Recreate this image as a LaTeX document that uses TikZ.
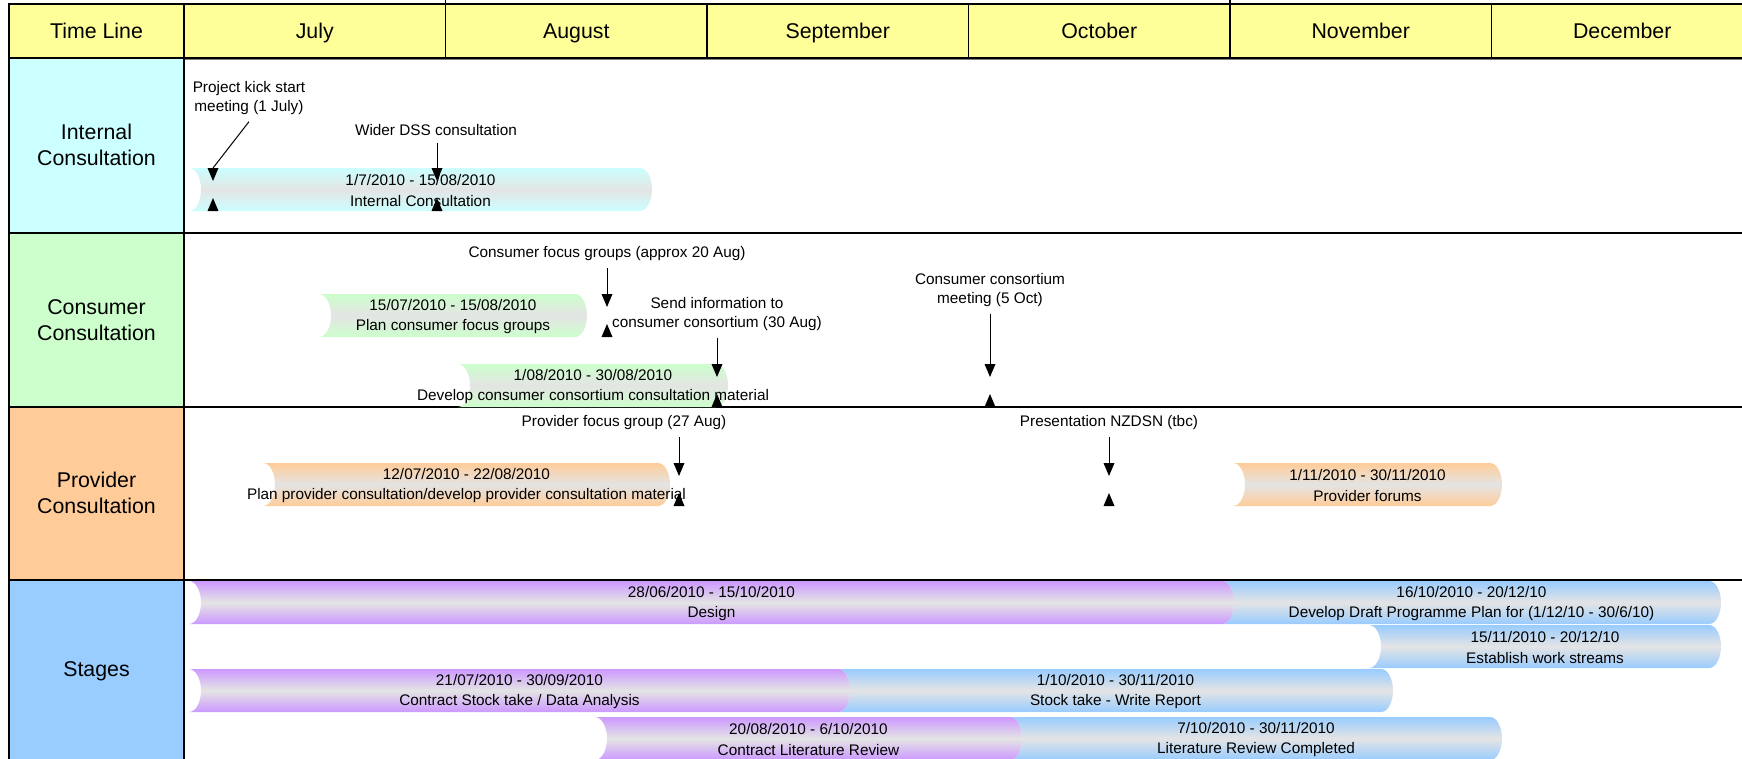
\documentclass[tikz,border=0pt]{standalone}
\usepackage{fontspec}
\setmainfont{Liberation Sans}
\usetikzlibrary{positioning}

\definecolor{hdryellow}{RGB}{255,255,153}
\definecolor{intcyan}{RGB}{204,255,255}
\definecolor{congreen}{RGB}{204,255,204}
\definecolor{provorange}{RGB}{255,204,153}
\definecolor{stageblue}{RGB}{153,204,255}
\definecolor{stagepurple}{RGB}{204,153,255}
\definecolor{barmid}{RGB}{228,228,228}

\tikzset{every picture/.style={line width=0.75pt}}
\tikzset{
  cell/.style={draw=black, line width=1.1pt},
  hdrtext/.style={font=\fontsize{16}{19}\selectfont, inner sep=0pt, text height=11.5pt, text depth=3.4pt},
  rowtext/.style={font=\fontsize{16}{19.5}\selectfont, align=center, inner sep=0pt},
  bartext/.style={font=\fontsize{11.5}{15.5}\selectfont, align=center, inner sep=0pt},
  mstext/.style={font=\fontsize{11.5}{14}\selectfont, align=center, inner sep=5pt},
}

% time bar: name, left, right, top, colour, text
\newcommand{\tlbar}[6]{%
  \shade[top color=#5, bottom color=#5, middle color=barmid]
    (#2,#4) -- ({#3-12},#4) arc[start angle=-90, end angle=90, x radius=12, y radius=21.5]
    -- (#2,{#4+43}) arc[start angle=90, end angle=-90, x radius=12, y radius=21.5] -- cycle;
  \node[bartext] (#1) at ({(#2+#3)/2},{#4+22.5}) {#6};
}
% milestone: name, x, top
\newcommand{\tlmark}[3]{%
  \coordinate (#1) at (#2,#3);
  \fill ({#2-5.5},#3) -- ({#2+5.5},#3) -- (#2,{#3+13}) -- cycle;
  \fill ({#2-5.5},{#3+43}) -- ({#2+5.5},{#3+43}) -- (#2,{#3+30}) -- cycle;
}

\begin{document}
\begin{tikzpicture}[x=0.75pt,y=0.75pt,yscale=-1,xscale=1]
\useasboundingbox (0,0) rectangle (1742,758);
\clip (0,0) rectangle (1742,758);

%Header row
\draw[cell] (445.5,0) -- (445.5,4) (1230,0) -- (1230,4);
\draw[cell, fill=hdryellow] (9,4) rectangle (184,58);
\node[hdrtext] (tlhead) at (96.5,33.5) {Time Line};
\foreach \mon [count=\i from 0] in {July,August,September,October,November,December} {
  \draw[cell, fill=hdryellow] ({184+261.5*\i},4) rectangle ({184+261.5*(\i+1)},58);
  \node[hdrtext] (m\i) at ({184+261.5*(\i+0.5)},33.5) {\mon};
}
\draw[gray, line width=0.9pt] (9,59.6) -- (1760,59.6);

%Row headings
\draw[cell, fill=intcyan] (9,58) rectangle (184,233);
\node[rowtext] (intlab) at (96.5,145) {Internal\\Consultation};
\draw[cell, fill=congreen] (9,233) rectangle (184,407);
\node[rowtext] (conlab) at (96.5,320) {Consumer\\Consultation};
\draw[cell, fill=provorange] (9,407) rectangle (184,580);
\node[rowtext] (provlab) at (96.5,493) {Provider\\Consultation};
\draw[cell, fill=stageblue] (9,580) rectangle (184,766);
\node[rowtext] (stglab) at (96.5,671) {Stages};
\foreach \y in {233,407,580} \draw[cell] (184,\y) -- (1760,\y);

%Internal consultation
\tlbar{intbar}{189}{652}{168}{intcyan}{1/7/2010 - 15/08/2010\\Internal Consultation}

%Consumer consultation
\tlbar{cfgbar}{319}{587}{294}{congreen}{15/07/2010 - 15/08/2010\\Plan consumer focus groups}
\tlbar{ccmbar}{458}{728}{364}{congreen}{1/08/2010 - 30/08/2010\\Develop consumer consortium consultation material}

%Provider consultation
\tlbar{ppcbar}{263}{670}{463}{provorange}{12/07/2010 - 22/08/2010\\Plan provider consultation/develop provider consultation material}
\tlbar{pfbar}{1233}{1502}{463}{provorange}{1/11/2010 - 30/11/2010\\Provider forums}

%Stages
\tlbar{draftbar}{1222}{1721}{581}{stageblue}{16/10/2010 - 20/12/10\\Develop Draft Programme Plan for (1/12/10 - 30/6/10)}
\tlbar{wsbar}{1369}{1721}{625}{stageblue}{15/11/2010 - 20/12/10\\Establish work streams}
\tlbar{designbar}{189}{1234}{581}{stagepurple}{28/06/2010 - 15/10/2010\\Design}
\tlbar{wrbar}{838}{1393}{669}{stageblue}{1/10/2010 - 30/11/2010\\Stock take - Write Report}
\tlbar{stkbar}{189}{850}{669}{stagepurple}{21/07/2010 - 30/09/2010\\Contract Stock take / Data Analysis}
\tlbar{lrcbar}{1010}{1502}{717}{stageblue}{7/10/2010 - 30/11/2010\\Literature Review Completed}
\tlbar{litbar}{595}{1022}{717}{stagepurple}{20/08/2010 - 6/10/2010\\Contract Literature Review}

%Milestones
\tlmark{kickmark}{213}{168}
\tlmark{dssmark}{437}{168}
\tlmark{cfgmark}{607}{294}
\tlmark{sendmark}{717}{364}
\tlmark{ccmark}{990}{364}
\tlmark{pfgmark}{679}{463}
\tlmark{nzmark}{1109}{463}

\node[mstext] (kick) at (249,98) {Project kick start\\meeting (1 July)};
\node[mstext] (dss) at (436,130) {Wider DSS consultation};
\node[mstext] (cfg) at (607,254) {Consumer focus groups (approx 20 Aug)};
\node[mstext] (send) at (717,314) {Send information to\\consumer consortium (30 Aug)};
\node[mstext] (ccmeet) at (990,290) {Consumer consortium\\meeting (5 Oct)};
\node[mstext] (pfg) at (624,423) {Provider focus group (27 Aug)};
\node[mstext] (nzdsn) at (1109,423) {Presentation NZDSN (tbc)};

\draw (kick.south) -- (kickmark);
\draw (dss.south -| dssmark) -- (dssmark);
\draw (cfg.south -| cfgmark) -- (cfgmark);
\draw (send.south -| sendmark) -- (sendmark);
\draw (ccmeet.south -| ccmark) -- (ccmark);
\draw (pfg.south -| pfgmark) -- (pfgmark);
\draw (nzdsn.south -| nzmark) -- (nzmark);
\end{tikzpicture}
\end{document}
